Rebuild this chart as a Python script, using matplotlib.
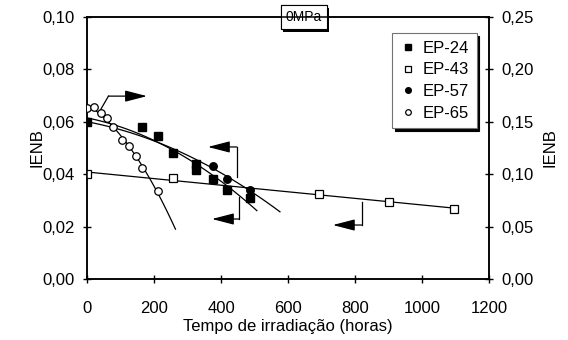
import matplotlib
matplotlib.use('Agg')
import matplotlib.pyplot as plt
import matplotlib.patheffects as pe
from matplotlib.ticker import FuncFormatter
import numpy as np

plt.rcParams['font.family'] = ['Liberation Sans', 'DejaVu Sans']

# dados (IENB x horas)
ep24_h = [0, 164, 212, 257, 325, 325, 376, 418, 487]
ep24_v = [0.060, 0.058, 0.0546, 0.048, 0.0439, 0.0416, 0.038, 0.034, 0.031]

ep43_h = [0, 257, 692, 902, 1096]
ep43_v = [0.040, 0.0386, 0.0324, 0.0293, 0.0268]

ep57_h = [0, 376, 418, 487]
ep57_v = [0.060, 0.043, 0.038, 0.034]

# EP-65 no eixo da direita
ep65_h = [0, 21, 41, 61, 79, 104, 125, 146, 163, 211]
ep65_v = [0.163, 0.164, 0.158, 0.154, 0.145, 0.133, 0.127, 0.117, 0.106, 0.084]

xticks = [0, 200, 400, 600, 800, 1000, 1200]
yticks_l = [0.0, 0.02, 0.04, 0.06, 0.08, 0.10]
yticks_r = [0.0, 0.05, 0.10, 0.15, 0.20, 0.25]

virg = FuncFormatter(lambda v, p: ('%.2f' % v).replace('.', ','))
fs = 12

fig = plt.figure(figsize=(5.68, 3.4), dpi=100)
ax = fig.add_axes([87/568, 61/340, 402/568, 262/340])
ax2 = ax.twinx()

ax.set_xlim(0, 1200)
ax.set_ylim(0, 0.10)
ax2.set_ylim(0, 0.25)
ax.set_xticks(xticks)
ax.set_yticks(yticks_l)
ax2.set_yticks(yticks_r)
ax.yaxis.set_major_formatter(virg)
ax2.yaxis.set_major_formatter(virg)

for a in (ax, ax2):
    for s in a.spines.values():
        s.set_linewidth(1.1)
ax.tick_params(axis='both', direction='inout', length=6, width=1.0, labelsize=fs, color='k')
ax.tick_params(axis='x', pad=13)
ax.tick_params(axis='y', pad=6)
ax2.tick_params(axis='y', direction='inout', length=6, width=1.0, labelsize=fs, pad=6)

ax.set_xlabel('Tempo de irradiação (horas)', fontsize=fs, labelpad=2)
ax.set_ylabel('IENB', fontsize=fs, labelpad=-2)
ax2.set_ylabel('IENB', fontsize=fs, labelpad=6)

# linhas de tendência
def trend(h, v, deg, x_end, a):
    c = np.polyfit(h, v, deg)
    xx = np.linspace(0, x_end, 100)
    a.plot(xx, np.polyval(c, xx), color='k', lw=0.9, zorder=2)

trend(ep24_h, ep24_v, 2, 507, ax)
trend(ep57_h, ep57_v, 2, 576, ax)
trend(ep43_h, ep43_v, 1, 1096, ax)
trend(ep65_h, ep65_v, 2, 264, ax2)

ms = 5.4
h1, = ax.plot(ep24_h, ep24_v, 's', ms=ms, mfc='k', mec='k', ls='none', label='EP-24', zorder=3)
h2, = ax.plot(ep43_h, ep43_v, 's', ms=ms, mfc='white', mec='k', mew=0.9, ls='none', label='EP-43', zorder=3)
h3, = ax.plot(ep57_h, ep57_v, 'o', ms=ms, mfc='k', mec='k', ls='none', label='EP-57', zorder=3)
h4, = ax2.plot(ep65_h, ep65_v, 'o', ms=ms, mfc='white', mec='k', mew=0.9, ls='none', label='EP-65', zorder=3)

# setas indicando o eixo de cada série
arrows = [
    [(40, 0.0645), (64, 0.0698), (179, 0.0698)],
    [(447, 0.0389), (447, 0.0504), (361, 0.0504)],
    [(455, 0.0314), (455, 0.0229), (373, 0.0229)],
    [(822, 0.0295), (822, 0.0206), (734, 0.0206)],
]
for pts in arrows:
    ax.plot([pts[0][0], pts[1][0]], [pts[0][1], pts[1][1]], color='k', lw=0.9, zorder=4)
    ax.annotate('', xy=pts[2], xytext=pts[1],
                arrowprops=dict(arrowstyle='-|>,head_length=1.35,head_width=0.35',
                                color='k', lw=0.9, shrinkA=0, shrinkB=0), zorder=4)

leg = ax.legend(handles=[h1, h2, h3, h4], loc='upper right',
                bbox_to_anchor=(0.969, 0.938), borderaxespad=0,
                fontsize=fs, markerscale=0.75, handlelength=1.1,
                handletextpad=0.3, labelspacing=0.4, borderpad=0.45,
                fancybox=False, edgecolor='0.45', framealpha=1,
                shadow={'color': 'k', 'alpha': 1})
leg.get_frame().set_linewidth(0.8)

t = ax.text(0.539, 1.0, '0MPa', transform=ax.transAxes, ha='center', va='center',
            fontsize=10, zorder=10,
            bbox=dict(boxstyle='square,pad=0.35', fc='white', ec='k', lw=0.8))
t.get_bbox_patch().set_path_effects([
    pe.withSimplePatchShadow(offset=(2, -2), shadow_rgbFace='k', alpha=1), pe.Normal()])

fig.savefig('out.png', dpi=100)
